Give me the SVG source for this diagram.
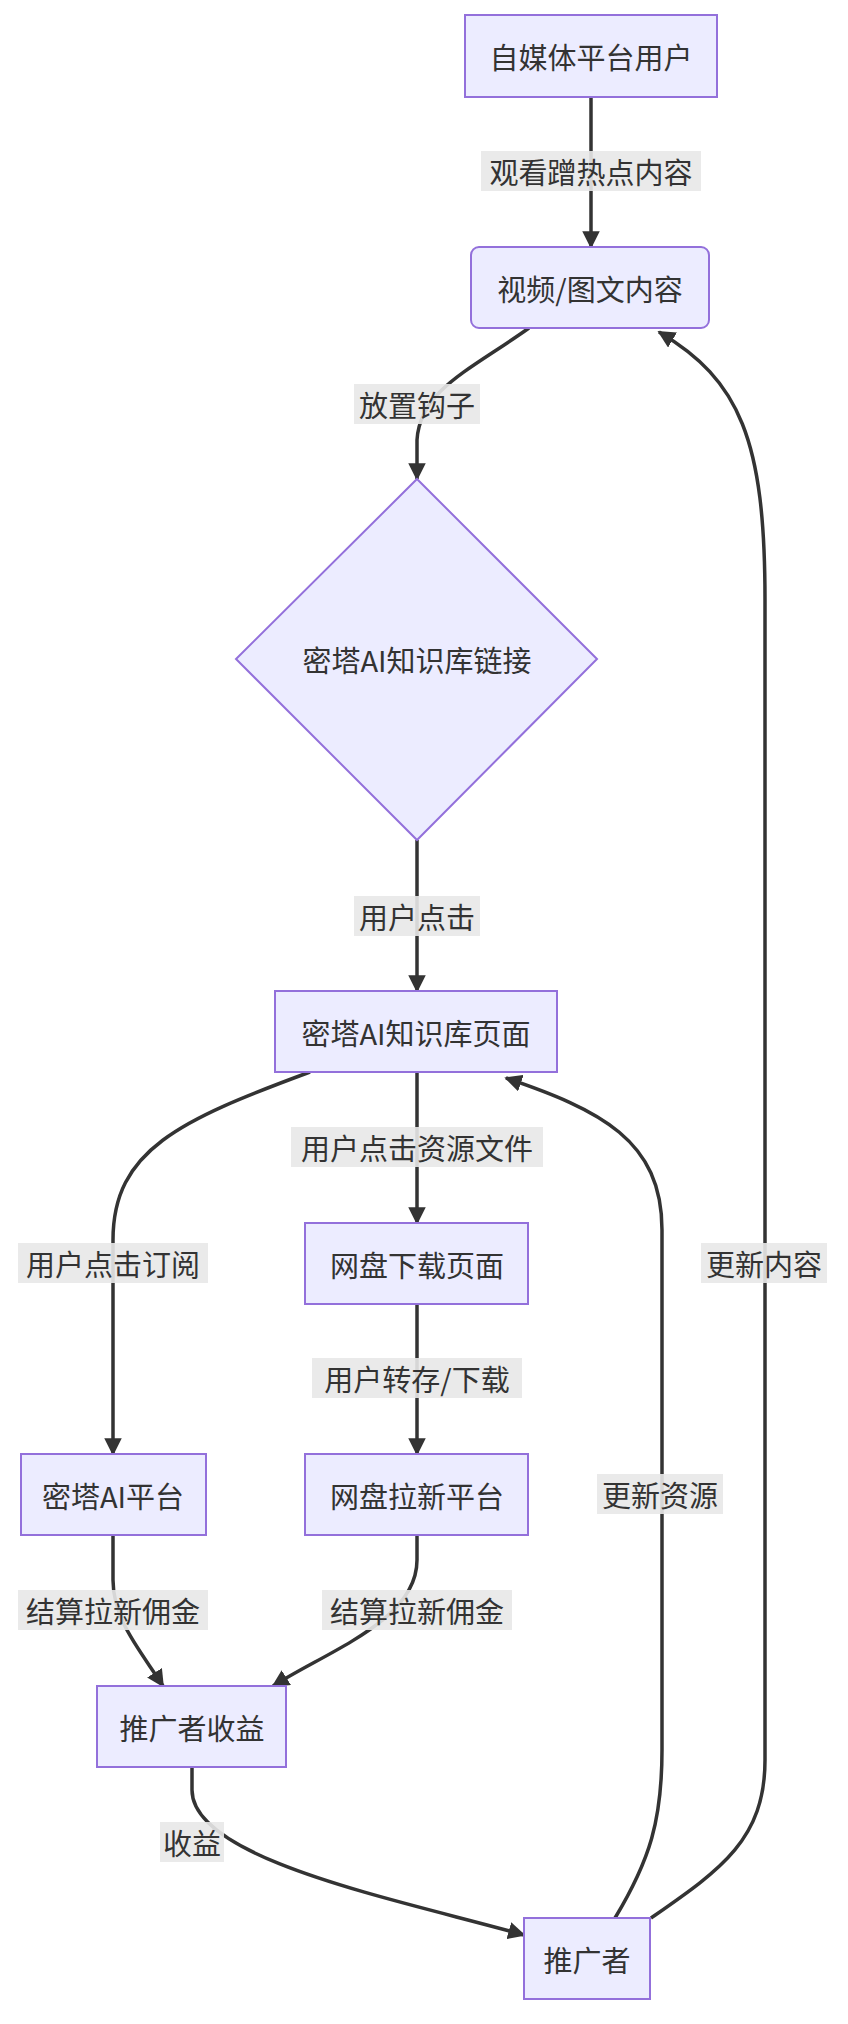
<svg xmlns="http://www.w3.org/2000/svg" width="848" height="2024" viewBox="0 0 848 2024">
<style>
.n{fill:#ECECFF;stroke:#9370DB;stroke-width:2}
.t{font-family:"Noto Sans CJK SC","Noto Sans",sans-serif;font-size:29px;fill:#333;text-anchor:middle;dominant-baseline:central}
.e{fill:none;stroke:#333;stroke-width:3.5}
.lb{fill:#e8e8e8;opacity:0.9}
</style>
<defs><marker id="a" viewBox="0 0 10 10" refX="9" refY="5" markerWidth="5" markerHeight="5" orient="auto" markerUnits="strokeWidth"><path d="M0,0L10,5L0,10z" fill="#333"/></marker></defs>
<rect width="848" height="2024" fill="#fff"/>
<g id="edges">
<path class="e" marker-end="url(#a)" d="M591,97L591,247"/>
<path class="e" marker-end="url(#a)" d="M529,328C470,370 420,390 417,440L417,479"/>
<path class="e" marker-end="url(#a)" d="M417,840L417,991"/>
<path class="e" marker-end="url(#a)" d="M417,1072L417,1223"/>
<path class="e" marker-end="url(#a)" d="M310,1072C180,1120 113,1150 113,1240L113,1454"/>
<path class="e" marker-end="url(#a)" d="M417,1304L417,1454"/>
<path class="e" marker-end="url(#a)" d="M113,1535L113,1580C113,1620 140,1650 163,1686"/>
<path class="e" marker-end="url(#a)" d="M417,1535L417,1560C417,1620 330,1650 273,1686"/>
<path class="e" marker-end="url(#a)" d="M192,1767L192,1790C192,1860 400,1900 524,1935"/>
<path class="e" marker-end="url(#a)" d="M615,1918C650,1860 662,1820 662,1750L662,1230C662,1140 600,1110 506,1078"/>
<path class="e" marker-end="url(#a)" d="M651,1918C720,1870 765,1840 765,1760L765,600C765,440 740,380 659,332"/>
</g>
<g id="edge-labels">
<rect class="lb" x="481" y="151" width="220" height="40"/><text class="t" x="591" y="171">观看蹭热点内容</text>
<rect class="lb" x="354" y="384" width="126" height="40"/><text class="t" x="417" y="404">放置钩子</text>
<rect class="lb" x="354" y="896" width="126" height="40"/><text class="t" x="417" y="916">用户点击</text>
<rect class="lb" x="291" y="1127" width="252" height="40"/><text class="t" x="417" y="1147">用户点击资源文件</text>
<rect class="lb" x="18" y="1243" width="190" height="40"/><text class="t" x="113" y="1263">用户点击订阅</text>
<rect class="lb" x="312" y="1358" width="210" height="40"/><text class="t" x="417" y="1378">用户转存/下载</text>
<rect class="lb" x="18" y="1590" width="190" height="40"/><text class="t" x="113" y="1610">结算拉新佣金</text>
<rect class="lb" x="322" y="1590" width="190" height="40"/><text class="t" x="417" y="1610">结算拉新佣金</text>
<rect class="lb" x="160" y="1822" width="64" height="40"/><text class="t" x="192" y="1842">收益</text>
<rect class="lb" x="597" y="1474" width="126" height="40"/><text class="t" x="660" y="1494">更新资源</text>
<rect class="lb" x="701" y="1243" width="126" height="40"/><text class="t" x="764" y="1263">更新内容</text>
</g>
<g id="n1"><rect class="n" x="465" y="15" width="252" height="82"/><text class="t" x="591" y="56">自媒体平台用户</text></g>
<g id="n2"><rect class="n" x="471" y="247" width="238" height="81" rx="8"/><text class="t" x="590" y="288">视频/图文内容</text></g>
<g id="n3"><path class="n" d="M417,479L597,659L417,840L236,659Z"/><text class="t" x="417" y="659">密塔AI知识库链接</text></g>
<g id="n4"><rect class="n" x="275" y="991" width="282" height="81"/><text class="t" x="416" y="1032">密塔AI知识库页面</text></g>
<g id="n5"><rect class="n" x="305" y="1223" width="223" height="81"/><text class="t" x="417" y="1264">网盘下载页面</text></g>
<g id="n6"><rect class="n" x="305" y="1454" width="223" height="81"/><text class="t" x="417" y="1495">网盘拉新平台</text></g>
<g id="n7"><rect class="n" x="21" y="1454" width="185" height="81"/><text class="t" x="113" y="1495">密塔AI平台</text></g>
<g id="n8"><rect class="n" x="97" y="1686" width="189" height="81"/><text class="t" x="192" y="1727">推广者收益</text></g>
<g id="n9"><rect class="n" x="524" y="1918" width="126" height="81"/><text class="t" x="587" y="1959">推广者</text></g>
</svg>
